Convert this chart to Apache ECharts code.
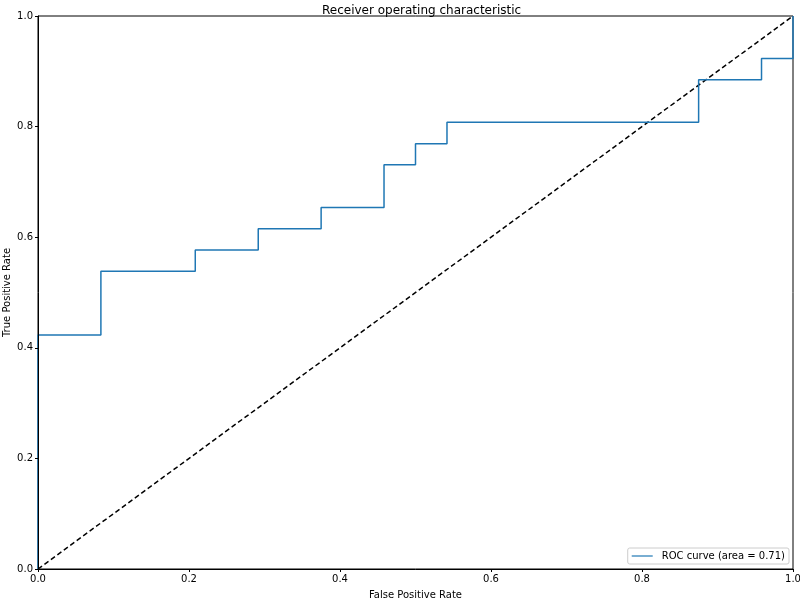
<!DOCTYPE html>
<html>
<head>
<meta charset="utf-8">
<script src="https://cdn.jsdelivr.net/npm/echarts@6/dist/echarts.min.js"></script>
<style>html,body{margin:0;padding:0;background:#fff;}#c{width:800px;height:599px;}</style>
</head>
<body>
<div id="c"></div>
<script>
var fpr = [0, 0, 0.0833, 0.0833, 0.2083, 0.2083, 0.2917, 0.2917, 0.375, 0.375, 0.4583, 0.4583, 0.5, 0.5, 0.5417, 0.5417, 0.875, 0.875, 0.9583, 0.9583, 1, 1];
var tpr = [0, 0.4231, 0.4231, 0.5385, 0.5385, 0.5769, 0.5769, 0.6154, 0.6154, 0.6538, 0.6538, 0.7308, 0.7308, 0.7692, 0.7692, 0.8077, 0.8077, 0.8846, 0.8846, 0.9231, 0.9231, 1];
var diagX = [0, 1];
var diagY = [0, 1];
var rocName = 'ROC curve (area = 0.71)';
var titleText = 'Receiver operating characteristic';
var xLabel = 'False Positive Rate';
var yLabel = 'True Positive Rate';

var chart = echarts.init(document.getElementById('c'), null, {renderer: 'canvas'});
var font = 'DejaVu Sans';
chart.setOption({
  animation: false,
  title: {text: titleText, left: 317, top: 0, textStyle: {fontFamily: font, fontSize: 12, fontWeight: 'normal', color: '#000'}},
  grid: {left: 38, right: 7, top: 16, bottom: 30, show: true, borderColor: '#000', borderWidth: 1, containLabel: false, outerBoundsMode: 'none'},
  legend: {
    right: 11, bottom: 35, orient: 'vertical',
    data: [rocName],
    itemWidth: 21, itemHeight: 10, itemGap: 4,
    padding: [3, 4, 3, 4],
    borderColor: '#ccc', borderWidth: 1, borderRadius: 2,
    backgroundColor: '#fff',
    textStyle: {fontFamily: font, fontSize: 10, color: '#000', padding: [0, 0, 0, 4]},
    icon: 'path://M0,4.4 L21,4.4 L21,5.6 L0,5.6 Z'
  },
  xAxis: {
    type: 'value', min: 0, max: 1, interval: 0.2, z: 10,
    name: xLabel, nameLocation: 'middle', nameGap: 21, nameMoveOverlap: false,
    nameTextStyle: {fontFamily: font, fontSize: 10, color: '#000'},
    axisLine: {show: true, lineStyle: {color: '#000'}},
    axisTick: {show: true, length: 3, lineStyle: {color: '#000'}},
    axisLabel: {fontFamily: font, fontSize: 10, color: '#000', margin: 5, formatter: function(v){return v.toFixed(1);}},
    splitLine: {show: false}
  },
  yAxis: {
    type: 'value', min: 0, max: 1, interval: 0.2, z: 10,
    name: yLabel, nameLocation: 'middle', nameGap: 26, nameRotate: 90, nameMoveOverlap: false,
    nameTextStyle: {fontFamily: font, fontSize: 10, color: '#000'},
    axisLine: {show: true, lineStyle: {color: '#000'}},
    axisTick: {show: true, length: 3, lineStyle: {color: '#000'}},
    axisLabel: {fontFamily: font, fontSize: 10, color: '#000', margin: 5, formatter: function(v){return v.toFixed(1);}},
    splitLine: {show: false}
  },
  series: [
    {
      name: rocName, type: 'line', showSymbol: false, symbol: 'none',
      data: fpr.map(function(x, i){return [x, tpr[i]];}),
      lineStyle: {color: '#1f77b4', width: 1.5},
      itemStyle: {color: '#1f77b4'},
      z: 3
    },
    {
      name: 'diag', type: 'line', showSymbol: false, symbol: 'none',
      data: diagX.map(function(x, i){return [x, diagY[i]];}),
      lineStyle: {color: '#000', width: 1.5, type: [5, 3]},
      z: 2
    }
  ]
});
</script>
</body>
</html>
